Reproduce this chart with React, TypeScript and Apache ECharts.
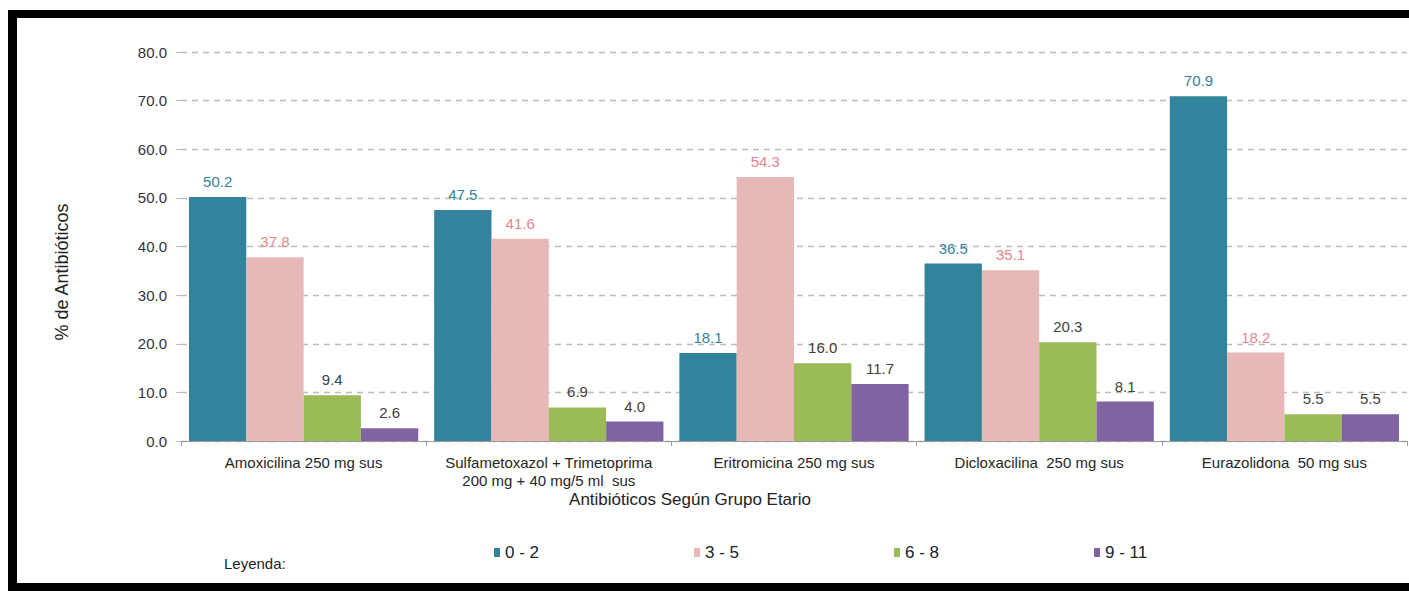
import React, { useEffect, useRef } from "react";
import * as echarts from "echarts";

const categories = [
  "Amoxicilina 250 mg sus",
  "Sulfametoxazol + Trimetoprima\n200 mg + 40 mg/5 ml  sus",
  "Eritromicina 250 mg sus",
  "Dicloxacilina  250 mg sus",
  "Eurazolidona  50 mg sus",
];
const seriesNames = ["0 - 2", "3 - 5", "6 - 8", "9 - 11"];
const age0to2 = [50.2, 47.5, 18.1, 36.5, 70.9];
const age3to5 = [37.8, 41.6, 54.3, 35.1, 18.2];
const age6to8 = [9.4, 6.9, 16.0, 20.3, 5.5];
const age9to11 = [2.6, 4.0, 11.7, 8.1, 5.5];
const barColors = ["#31849B", "#E6B9B8", "#9BBB59", "#8064A2"];
const labelColors = ["#31859C", "#E8858A", "#404040", "#404040"];

const FONT = "'Liberation Sans', Arial, sans-serif";

export default function App() {
  const ref = useRef<HTMLDivElement>(null);
  useEffect(() => {
    if (!ref.current) return;
    const chart = echarts.init(ref.current, null, { renderer: "svg" });
    const values = [age0to2, age3to5, age6to8, age9to11];
    chart.setOption({
      animation: false,
      backgroundColor: "#ffffff",
      textStyle: { fontFamily: FONT },
      grid: { left: 181, right: 2, top: 52, bottom: 150, containLabel: false },
      legend: {
        data: seriesNames,
        left: 489,
        top: 539,
        itemWidth: 6,
        itemHeight: 9,
        itemGap: 155,
        icon: "rect",
        textStyle: { fontFamily: FONT, fontSize: 17, color: "#222222" },
      },
      xAxis: {
        type: "category",
        data: categories,
        axisLine: { show: true, lineStyle: { color: "#9a9a9a", width: 1 } },
        axisTick: { show: true, length: 5, lineStyle: { color: "#9a9a9a" } },
        axisLabel: {
          interval: 0,
          fontFamily: FONT,
          fontSize: 15,
          color: "#262626",
          margin: 12,
          lineHeight: 18,
        },
      },
      yAxis: {
        type: "value",
        min: 0,
        max: 80,
        interval: 10,
        axisLine: { show: false },
        axisTick: { show: true, length: 5, lineStyle: { color: "#bbbbbb" } },
        axisLabel: {
          fontFamily: FONT,
          fontSize: 15,
          color: "#333333",
          margin: 14,
          formatter: (v: number) => v.toFixed(1),
        },
        splitLine: {
          show: true,
          lineStyle: { color: "#bdbdbd", type: [6, 5], width: 1.3 },
        },
      },
      series: seriesNames.map((name, i) => ({
        name,
        type: "bar",
        data: values[i],
        barGap: "0%",
        barCategoryGap: "6.5%",
        itemStyle: { color: barColors[i] },
        label: {
          show: true,
          position: "top",
          distance: 8,
          fontFamily: FONT,
          fontSize: 15,
          color: labelColors[i],
          formatter: (p: any) => Number(p.value).toFixed(1),
        },
      })),
      graphic: [
        { type: "rect", shape: { x: 8, y: 10, width: 1401, height: 8 }, style: { fill: "#000000" }, silent: true },
        { type: "rect", shape: { x: 8, y: 10, width: 9, height: 581 }, style: { fill: "#000000" }, silent: true },
        { type: "rect", shape: { x: 8, y: 583, width: 1401, height: 8 }, style: { fill: "#000000" }, silent: true },
        {
          type: "text",
          x: 62,
          y: 272,
          rotation: Math.PI / 2,
          style: {
            text: "% de Antibióticos",
            fontFamily: FONT,
            fontSize: 18,
            fill: "#222222",
            align: "center",
            verticalAlign: "middle",
          },
        },
        {
          type: "text",
          x: 690,
          y: 499,
          style: {
            text: "Antibióticos Según Grupo Etario",
            fontFamily: FONT,
            fontSize: 17,
            fill: "#222222",
            align: "center",
            verticalAlign: "middle",
          },
        },
        {
          type: "text",
          x: 224,
          y: 563,
          style: {
            text: "Leyenda:",
            fontFamily: FONT,
            fontSize: 15,
            fill: "#222222",
            align: "left",
            verticalAlign: "middle",
          },
        },
      ],
    });
    return () => chart.dispose();
  }, []);
  return (
    <div
      ref={ref}
      style={{ position: "fixed", left: 0, top: 0, width: 1409, height: 591, background: "#fff" }}
    />
  );
}
